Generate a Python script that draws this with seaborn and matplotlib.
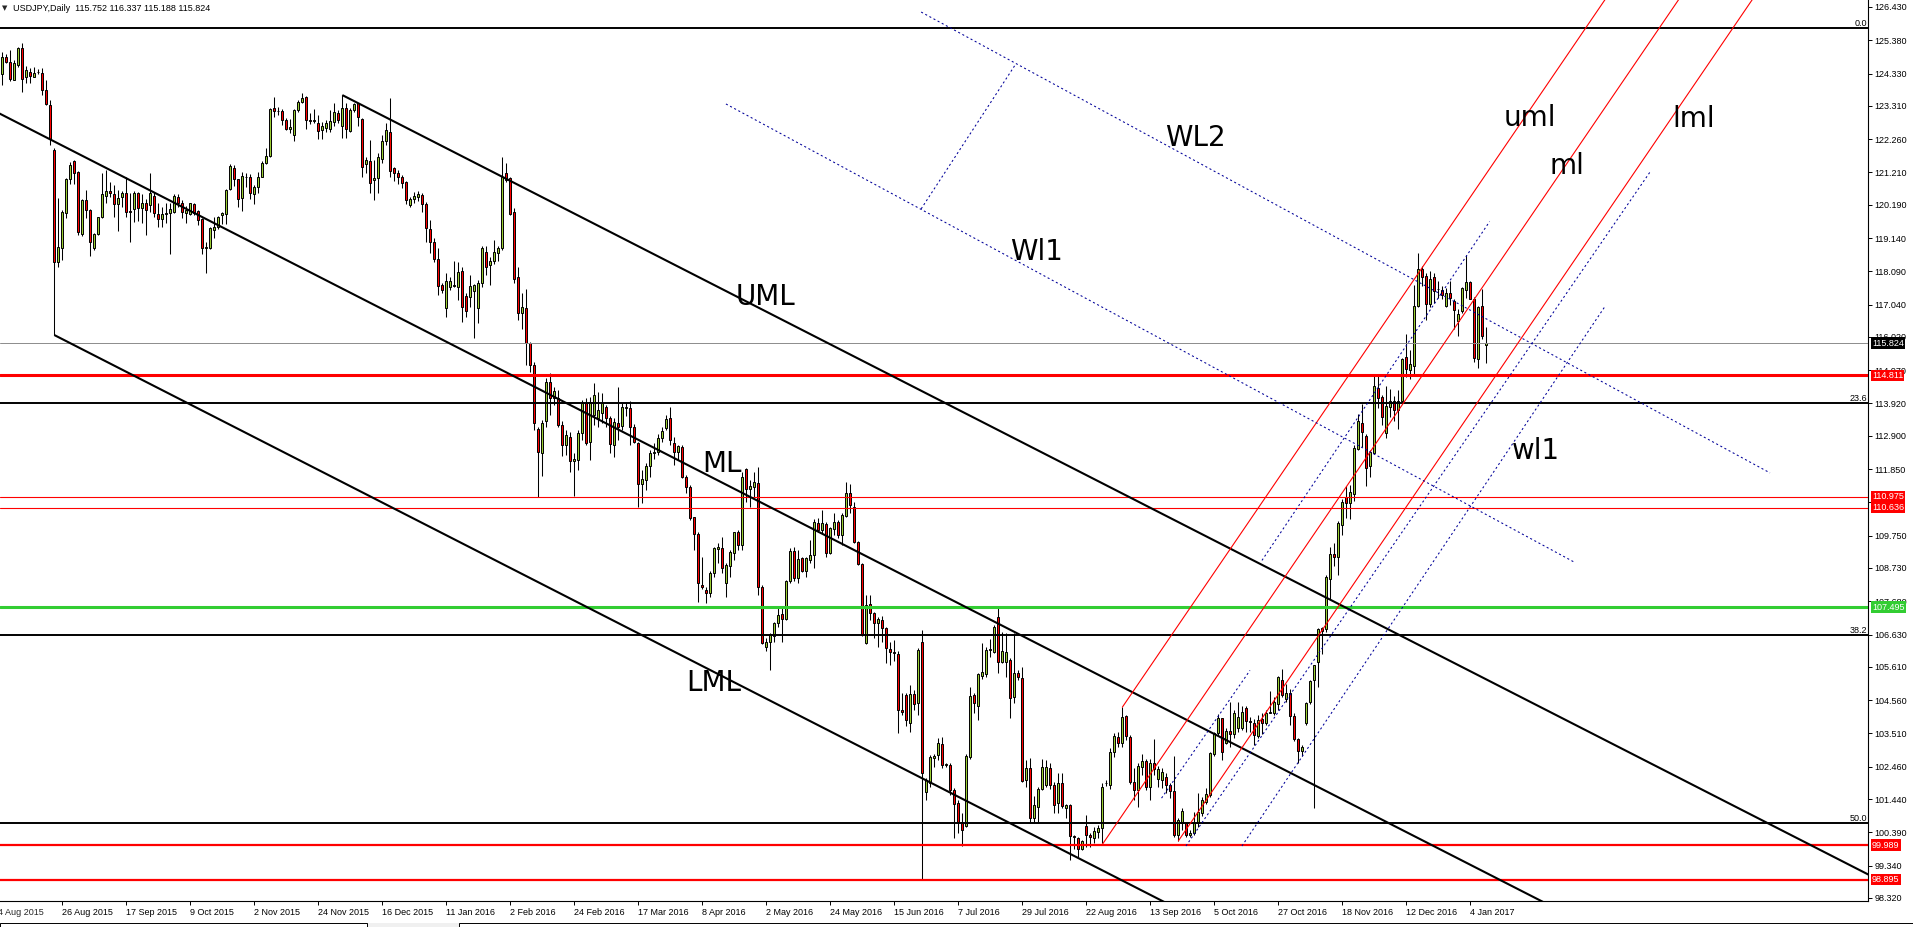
import numpy as np
import matplotlib
matplotlib.use("Agg")
import matplotlib.pyplot as plt
from matplotlib.patches import Rectangle
import seaborn as sns

# USDJPY daily candles, bar 0 = 5 Aug 2015 ... bar 371 = 10 Jan 2017
opens = [
    124.33, 124.84, 124.70, 124.14, 124.60, 125.12, 124.21, 124.39, 124.23, 124.37,
    124.36, 123.81, 123.35, 121.91, 118.39, 118.81, 119.92, 120.99, 121.57, 121.23,
    119.28, 120.34, 120.04, 118.81, 119.26, 119.79, 120.48, 120.61, 120.53, 120.20,
    120.42, 120.55, 119.99, 120.07, 120.55, 120.10, 120.23, 120.18, 120.46, 119.89,
    119.73, 119.89, 119.92, 119.97, 120.42, 120.23, 119.94, 119.89, 120.21, 119.99,
    119.73, 118.81, 118.84, 119.39, 119.49, 119.86, 119.89, 120.70, 121.35, 120.99,
    120.39, 121.07, 121.07, 120.53, 120.74, 121.07, 121.51, 121.74, 123.24, 123.15,
    123.14, 122.86, 122.57, 122.39, 123.18, 123.43, 123.60, 122.86, 122.84, 122.78,
    122.55, 122.60, 122.57, 122.79, 123.10, 122.66, 123.23, 122.53, 123.18, 123.39,
    122.89, 121.48, 121.57, 120.97, 121.03, 121.63, 122.20, 122.50, 121.34, 121.18,
    121.08, 120.92, 120.18, 120.36, 120.43, 120.50, 120.22, 119.43, 119.03, 118.47,
    117.66, 116.92, 117.61, 117.63, 117.61, 118.11, 117.31, 117.29, 117.48, 116.92,
    117.73, 118.71, 118.29, 118.40, 118.66, 118.81, 121.18, 121.03, 119.97, 117.90,
    116.77, 116.92, 115.84, 115.14, 113.11, 112.35, 113.38, 114.59, 114.08, 114.08,
    113.24, 112.61, 112.85, 112.09, 112.14, 112.98, 113.93, 112.72, 113.56, 113.45,
    113.63, 113.80, 113.45, 112.61, 113.32, 113.21, 113.77, 113.77, 113.17, 112.66,
    111.38, 111.51, 111.95, 112.37, 112.40, 112.82, 113.14, 113.45, 112.66, 112.40,
    112.56, 111.61, 111.30, 110.33, 109.80, 108.20, 108.04, 107.93, 108.56, 109.32,
    109.35, 108.25, 108.79, 109.19, 109.85, 109.46, 111.84, 111.21, 111.30, 111.40,
    108.12, 106.25, 106.41, 106.59, 106.99, 107.28, 107.11, 108.33, 109.28, 108.41,
    109.04, 108.62, 108.98, 109.14, 110.16, 109.93, 110.12, 109.21, 109.95, 110.19,
    109.77, 110.37, 111.11, 110.66, 109.56, 108.86, 106.35, 107.59, 107.32, 106.99,
    107.09, 106.83, 106.17, 106.09, 106.02, 104.25, 104.72, 103.85, 104.74, 104.48,
    106.38, 101.67, 101.96, 102.72, 102.83, 103.17, 102.51, 102.51, 101.73, 101.33,
    100.73, 100.59, 102.78, 104.72, 104.38, 105.32, 105.39, 106.14, 106.09, 107.17,
    105.77, 105.77, 105.83, 104.65, 105.43, 105.25, 102.04, 102.41, 100.83, 101.20,
    101.75, 101.88, 102.41, 101.88, 101.33, 101.96, 101.15, 101.25, 100.27, 100.20,
    99.88, 100.59, 100.31, 100.20, 100.41, 100.52, 101.94, 101.88, 102.93, 103.41,
    103.20, 104.06, 103.41, 101.99, 101.73, 102.46, 102.65, 101.81, 102.57, 102.06,
    102.04, 102.15, 101.88, 101.70, 100.31, 100.70, 100.67, 100.31, 100.38, 100.67,
    100.99, 101.36, 101.57, 102.86, 103.51, 103.99, 103.20, 103.58, 103.50, 103.67,
    103.67, 104.32, 103.91, 103.85, 103.44, 103.97, 103.85, 104.16, 104.14, 104.43,
    105.21, 104.61, 104.78, 104.05, 103.32, 102.95, 103.85, 104.49, 105.19, 105.75,
    106.83, 106.80, 108.37, 109.16, 109.07, 110.09, 110.97, 110.79, 111.05, 112.49,
    113.30, 112.90, 111.94, 112.37, 114.41, 114.12, 112.99, 113.81, 114.00, 113.73,
    114.00, 115.40, 114.99, 115.11, 117.00, 118.17, 117.94, 117.07, 117.91, 117.54,
    117.50, 117.00, 117.42, 117.15, 116.51, 116.84, 117.50, 117.74, 117.21, 115.32,
    117.00, 115.752,
]

highs = [
    125.02, 124.96, 125.07, 124.75, 125.17, 125.28, 124.56, 124.49, 124.54, 124.46,
    124.49, 124.12, 123.49, 121.97, 120.39, 120.02, 121.02, 121.55, 121.60, 121.25,
    120.36, 120.65, 120.06, 119.31, 119.81, 121.18, 121.30, 120.91, 120.81, 120.67,
    120.62, 121.07, 120.55, 120.61, 120.60, 120.53, 120.36, 121.20, 120.60, 120.23,
    120.13, 120.23, 120.23, 120.53, 120.53, 120.34, 120.15, 120.25, 120.23, 120.04,
    119.76, 119.02, 119.49, 119.81, 119.85, 119.97, 120.70, 121.47, 121.44, 121.01,
    121.23, 121.18, 121.16, 120.81, 121.23, 121.58, 121.98, 123.23, 123.58, 123.28,
    123.20, 122.94, 122.91, 123.20, 123.49, 123.72, 123.62, 123.07, 123.21, 123.02,
    122.81, 122.87, 123.18, 123.39, 123.18, 123.65, 123.39, 123.23, 123.41, 123.41,
    122.92, 121.71, 122.24, 121.60, 121.81, 122.39, 122.76, 123.55, 121.39, 121.29,
    121.13, 120.95, 120.45, 120.60, 120.63, 120.55, 120.29, 119.71, 119.13, 118.82,
    117.71, 118.03, 117.92, 118.40, 118.37, 118.24, 117.40, 117.98, 117.69, 117.82,
    118.89, 118.89, 118.55, 119.08, 118.89, 121.71, 121.50, 121.08, 120.08, 118.22,
    117.40, 117.52, 115.87, 115.24, 113.19, 113.40, 114.71, 114.87, 114.45, 114.35,
    113.38, 113.08, 113.03, 112.35, 113.09, 114.03, 114.08, 114.14, 114.58, 114.29,
    114.24, 113.87, 113.53, 113.45, 114.45, 113.93, 113.98, 114.01, 113.27, 112.72,
    111.82, 112.03, 112.45, 112.66, 112.96, 113.19, 113.56, 113.80, 112.87, 112.61,
    112.61, 111.66, 111.35, 110.35, 109.88, 109.09, 108.14, 108.62, 109.40, 109.51,
    109.72, 108.88, 109.30, 109.88, 109.93, 111.77, 111.88, 111.51, 111.77, 111.91,
    108.19, 106.51, 106.68, 107.04, 107.51, 107.46, 108.35, 109.35, 109.40, 109.30,
    109.09, 109.09, 109.61, 110.27, 110.30, 110.56, 110.19, 110.01, 110.48, 110.25,
    110.48, 111.45, 111.38, 110.82, 109.59, 108.88, 107.88, 107.88, 107.35, 107.17,
    107.22, 106.86, 106.41, 106.45, 106.10, 104.78, 104.80, 105.04, 104.88, 106.20,
    106.77, 102.09, 102.83, 102.86, 103.36, 103.41, 102.59, 102.57, 101.78, 101.41,
    100.99, 102.86, 104.96, 104.78, 105.41, 106.35, 106.25, 106.48, 106.93, 107.49,
    106.72, 106.67, 105.88, 106.67, 105.51, 105.62, 102.67, 102.72, 101.54, 101.83,
    102.69, 102.67, 102.57, 101.99, 102.25, 102.27, 101.30, 101.28, 100.30, 100.23,
    100.15, 100.94, 100.36, 100.57, 100.62, 101.96, 102.04, 103.04, 103.51, 103.57,
    104.33, 104.09, 103.46, 102.41, 102.57, 102.86, 102.69, 102.69, 103.35, 102.48,
    102.41, 102.25, 101.96, 102.80, 100.83, 101.15, 100.73, 100.46, 101.04, 101.64,
    101.51, 101.78, 102.93, 103.57, 104.12, 104.00, 103.67, 104.49, 104.26, 104.49,
    104.37, 104.37, 104.02, 103.97, 104.08, 104.14, 104.26, 104.84, 104.67, 105.33,
    105.54, 105.07, 104.90, 104.14, 103.38, 103.15, 104.49, 105.19, 105.68, 106.85,
    106.88, 108.52, 109.39, 109.51, 110.21, 110.91, 111.32, 111.35, 112.60, 113.59,
    113.89, 112.95, 112.45, 114.82, 114.79, 114.18, 114.47, 114.39, 114.15, 114.35,
    115.37, 116.10, 115.60, 117.66, 118.67, 118.26, 118.03, 118.09, 118.05, 117.80,
    117.62, 117.56, 117.77, 117.21, 116.89, 117.59, 118.59, 117.80, 117.27, 117.00,
    117.54, 116.337,
]

lows = [
    123.96, 124.65, 124.10, 124.12, 124.54, 123.75, 124.02, 124.04, 124.21, 124.31,
    123.65, 123.33, 122.07, 116.08, 118.23, 118.44, 119.76, 120.86, 120.86, 119.23,
    119.20, 119.76, 118.57, 118.76, 119.23, 119.77, 120.23, 120.44, 119.81, 119.37,
    120.13, 119.79, 119.02, 119.65, 119.68, 119.60, 119.23, 119.97, 119.81, 119.49,
    119.49, 119.60, 118.65, 119.92, 120.13, 119.76, 119.62, 119.88, 119.86, 119.55,
    118.63, 118.04, 118.78, 119.13, 119.41, 119.58, 119.58, 120.67, 120.78, 120.13,
    120.00, 120.76, 120.36, 120.21, 120.57, 121.05, 121.49, 121.70, 122.97, 123.02,
    122.70, 122.54, 122.46, 122.21, 123.12, 123.41, 122.59, 122.73, 122.76, 122.28,
    122.26, 122.50, 122.50, 122.66, 122.76, 122.29, 122.29, 122.47, 123.13, 122.68,
    121.06, 121.18, 120.55, 120.34, 120.55, 121.50, 122.08, 121.08, 120.95, 120.85,
    120.71, 120.22, 120.13, 120.24, 120.32, 119.97, 119.03, 118.68, 118.37, 117.35,
    117.40, 116.66, 117.50, 117.61, 117.19, 116.50, 116.66, 116.98, 115.98, 116.45,
    117.61, 117.98, 117.66, 118.32, 118.40, 118.77, 120.92, 119.87, 117.73, 116.56,
    116.26, 115.14, 114.90, 113.09, 110.96, 111.64, 113.19, 113.56, 113.87, 113.19,
    112.26, 112.30, 111.77, 111.00, 111.82, 112.77, 112.61, 112.14, 113.24, 113.19,
    113.30, 113.19, 112.37, 112.22, 112.77, 113.08, 113.51, 112.61, 112.66, 110.64,
    110.79, 111.19, 111.61, 112.16, 112.30, 112.69, 113.08, 112.61, 111.98, 112.14,
    111.56, 111.09, 110.25, 109.30, 107.67, 108.06, 107.62, 107.83, 108.46, 108.88,
    108.56, 107.83, 108.46, 108.98, 109.30, 109.30, 110.82, 110.67, 110.98, 107.88,
    106.33, 106.12, 105.51, 106.41, 106.88, 106.41, 107.09, 108.25, 108.33, 108.25,
    108.60, 108.46, 108.88, 108.72, 109.88, 109.83, 109.09, 109.17, 109.77, 109.67,
    109.46, 110.35, 110.48, 109.51, 108.83, 106.59, 106.33, 107.09, 106.51, 106.25,
    106.41, 105.72, 105.67, 105.80, 103.53, 104.09, 103.74, 103.57, 104.25, 104.09,
    98.91, 101.41, 101.83, 102.46, 102.67, 102.41, 102.46, 101.57, 100.20, 100.36,
    99.96, 100.57, 102.69, 104.14, 103.93, 105.22, 105.28, 105.93, 106.04, 105.41,
    105.72, 105.30, 103.99, 104.46, 105.20, 101.98, 101.83, 100.73, 100.70, 100.73,
    101.72, 101.83, 101.75, 100.99, 100.99, 101.15, 100.83, 99.52, 99.88, 99.62,
    99.83, 99.94, 99.92, 100.04, 100.20, 100.06, 101.85, 101.75, 102.78, 103.09,
    103.09, 103.30, 101.91, 101.41, 101.18, 102.20, 101.74, 101.41, 102.20, 101.83,
    101.78, 101.62, 101.46, 100.25, 100.13, 100.46, 100.25, 100.25, 100.30, 100.57,
    100.90, 101.28, 101.51, 102.80, 103.43, 102.67, 103.17, 103.09, 103.38, 103.56,
    103.62, 103.56, 103.56, 103.15, 103.38, 103.50, 103.79, 104.14, 104.08, 104.26,
    104.67, 104.49, 103.79, 103.27, 102.57, 102.80, 103.79, 104.43, 101.16, 104.96,
    106.03, 106.71, 107.76, 108.79, 108.52, 109.77, 110.30, 110.27, 110.85, 112.45,
    112.54, 111.32, 111.61, 112.33, 113.77, 113.24, 112.84, 113.48, 113.38, 113.10,
    113.97, 114.76, 114.70, 114.79, 116.98, 117.62, 116.54, 116.98, 117.10, 117.24,
    117.21, 116.98, 117.04, 116.26, 116.05, 116.77, 117.24, 117.21, 115.23, 115.05,
    115.95, 115.188,
]

closes = [
    124.86, 124.70, 124.17, 124.65, 125.12, 124.17, 124.44, 124.26, 124.36, 124.39,
    123.81, 123.37, 122.28, 118.39, 118.86, 119.97, 120.99, 121.44, 121.20, 119.34,
    120.34, 120.02, 119.02, 119.26, 119.79, 120.53, 120.63, 120.55, 120.20, 120.39,
    120.55, 119.97, 119.97, 120.55, 120.10, 120.25, 120.02, 120.57, 119.92, 119.73,
    119.89, 119.92, 120.07, 120.46, 120.23, 119.97, 120.04, 120.23, 119.92, 119.71,
    118.81, 118.86, 119.46, 119.49, 119.81, 119.92, 120.67, 121.41, 120.99, 120.36,
    121.09, 121.05, 120.57, 120.74, 121.05, 121.51, 121.72, 123.20, 123.15, 123.14,
    122.86, 122.57, 122.63, 123.18, 123.44, 123.57, 122.86, 122.84, 122.86, 122.52,
    122.68, 122.76, 122.84, 123.11, 122.85, 123.23, 122.57, 123.18, 123.37, 122.95,
    121.39, 121.60, 120.87, 121.03, 121.69, 122.21, 122.55, 121.26, 121.18, 121.06,
    120.89, 120.34, 120.36, 120.47, 120.53, 120.22, 119.45, 119.03, 118.47, 117.63,
    117.50, 117.77, 117.80, 117.66, 118.08, 116.96, 116.85, 117.63, 117.66, 117.73,
    118.82, 118.24, 118.42, 118.71, 118.82, 121.06, 120.97, 119.90, 117.84, 116.77,
    116.96, 115.82, 115.14, 113.32, 112.40, 113.30, 114.59, 114.08, 114.30, 113.24,
    112.61, 112.93, 112.09, 112.16, 112.98, 113.95, 112.66, 113.98, 114.19, 113.72,
    113.95, 113.45, 112.64, 113.35, 113.19, 113.80, 113.82, 113.17, 112.69, 111.38,
    111.53, 111.95, 112.37, 112.40, 112.82, 113.06, 113.42, 112.77, 112.40, 112.58,
    111.61, 111.30, 110.30, 109.80, 108.25, 108.14, 107.95, 108.56, 109.35, 109.38,
    108.72, 108.83, 109.25, 109.85, 109.46, 111.61, 111.21, 111.32, 111.45, 108.12,
    106.37, 106.41, 106.65, 106.99, 107.25, 107.11, 108.33, 109.28, 108.41, 109.00,
    108.62, 109.04, 109.14, 110.19, 109.93, 110.16, 109.21, 109.98, 110.19, 109.77,
    110.40, 111.11, 110.72, 109.54, 108.86, 106.62, 107.56, 107.32, 106.99, 107.11,
    106.83, 106.20, 106.09, 106.05, 104.25, 104.20, 103.93, 104.74, 104.44, 106.14,
    102.25, 102.04, 102.77, 102.80, 103.20, 102.51, 102.56, 101.73, 101.30, 100.73,
    100.46, 102.80, 104.69, 104.48, 105.39, 105.46, 106.14, 106.17, 106.88, 105.77,
    106.12, 106.09, 104.62, 105.43, 105.28, 102.00, 102.41, 100.83, 101.25, 101.75,
    102.44, 102.44, 101.88, 101.25, 101.96, 101.22, 101.25, 100.27, 100.25, 99.88,
    100.13, 100.31, 100.23, 100.44, 100.52, 101.81, 101.96, 102.93, 103.43, 103.22,
    104.02, 103.43, 101.99, 101.73, 102.48, 102.65, 101.81, 102.57, 102.38, 102.38,
    102.30, 101.88, 101.70, 100.31, 100.78, 101.07, 100.31, 100.38, 100.67, 101.04,
    101.41, 101.60, 102.88, 103.51, 103.99, 102.93, 103.60, 103.50, 104.16, 104.02,
    104.20, 103.91, 103.88, 103.46, 103.93, 103.85, 104.16, 104.20, 104.49, 105.28,
    104.72, 104.78, 104.05, 103.32, 102.95, 103.07, 104.47, 105.17, 105.66, 106.80,
    106.73, 108.44, 109.18, 109.07, 110.15, 110.82, 110.79, 111.14, 112.52, 113.36,
    113.03, 111.90, 112.40, 114.47, 114.08, 113.48, 113.83, 114.00, 113.71, 114.00,
    115.32, 115.02, 115.17, 117.00, 118.17, 117.91, 117.07, 117.85, 117.47, 117.52,
    117.35, 117.42, 117.24, 116.86, 116.74, 117.56, 117.74, 117.21, 115.35, 116.96,
    116.05, 115.824,
]

# time axis: a label every 16 bars, the first one (bar -1) is cut at the left edge
date_labels = [
    "4 Aug 2015", "26 Aug 2015", "17 Sep 2015", "9 Oct 2015", "2 Nov 2015",
    "24 Nov 2015", "16 Dec 2015", "11 Jan 2016", "2 Feb 2016", "24 Feb 2016",
    "17 Mar 2016", "8 Apr 2016", "2 May 2016", "24 May 2016", "15 Jun 2016",
    "7 Jul 2016", "29 Jul 2016", "22 Aug 2016", "13 Sep 2016", "5 Oct 2016",
    "27 Oct 2016", "18 Nov 2016", "12 Dec 2016", "4 Jan 2017",
]
first_label_bar = -1
label_step = 16

# price scale; 110.800 sits completely under the two red tags
price_ticks = [
    126.430, 125.380, 124.330, 123.310, 122.260, 121.210, 120.190, 119.140,
    118.090, 117.040, 116.020, 114.970, 113.920, 112.900, 111.850, 110.800,
    109.750, 108.730, 107.680, 106.630, 105.610, 104.560, 103.510, 102.460,
    101.440, 100.390, 99.340, 98.320,
]
hidden_ticks = [110.800]

# horizontal levels
red_levels = [114.811, 110.975, 110.636, 99.989, 98.895]
green_level = 107.495
bid_price = 115.824

# fibonacci retracement
fib_high = 125.78
fib_low = 75.62
fib_ratios = [0.0, 0.236, 0.382, 0.5]

# Andrews pitchforks: anchor points (bar, price)
black_fork = [(-44, 125.86), (85, 123.65), (13, 116.08)]
red_fork = [(275, 100.01), (280, 104.34), (294, 100.12)]

# dotted warning / sliding lines (bar0, price0, bar1, price1)
dotted_lines = [
    (180.9, 123.37, 392.9, 108.92),
    (229.7, 126.27, 441.9, 111.73),
    (229.7, 120.06, 253.4, 124.64),
    (314.9, 108.97, 371.8, 119.66),
    (289.8, 101.47, 311.9, 105.50),
    (295.9, 99.96, 412.0, 121.24),
    (309.9, 99.96, 400.8, 117.01),
]

# text objects on the chart (left x in bars, baseline price)
notes = [
    ("WL2", 290.7, 122.04), ("Wl1", 251.9, 118.45), ("UML", 183.2, 117.03),
    ("ML", 174.9, 111.76), ("LML", 170.9, 104.85), ("uml", 375.4, 122.67),
    ("ml", 386.7, 121.16), ("lml", 417.4, 122.64), ("wl1", 377.4, 112.17),
]


def pitchfork(p1, p2, p3, x_end):
    mx = (p2[0] + p3[0]) / 2
    my = (p2[1] + p3[1]) / 2
    slope = (my - p1[1]) / (mx - p1[0])
    out = []
    for x0, y0 in (p1, p2, p3):
        out.append(((x0, x_end), (y0, y0 + slope * (x_end - x0))))
    return out


sns.set_theme(style="white")
plt.rcParams["font.family"] = ["Liberation Sans", "DejaVu Sans"]

W, H = 1913, 927
fig = plt.figure(figsize=(W / 100, H / 100), dpi=100)
fig.patch.set_facecolor("white")
ax = fig.add_axes([0, 1 - 901 / H, 1868 / W, 901 / H])
ax.set_facecolor("white")

o = np.array(opens)
h = np.array(highs)
l = np.array(lows)
c = np.array(closes)
bars = np.arange(len(c))
up = c >= o
lo = np.minimum(o, c)
ht = np.abs(c - o)

ax.vlines(bars, l, h, color="black", lw=0.75, zorder=2)
ax.bar(bars[up], ht[up], bottom=lo[up], width=0.5, color="#9acd32",
       edgecolor="black", linewidth=0.7, zorder=2.1)
ax.bar(bars[~up], ht[~up], bottom=lo[~up], width=0.5, color="#ff0000",
       edgecolor="black", linewidth=0.7, zorder=2.1)

# fibo levels
fib_levels = [fib_high - r * (fib_high - fib_low) for r in fib_ratios]
for lev, r in zip(fib_levels, fib_ratios):
    ax.axhline(lev, color="black", lw=1.4, zorder=3)
    ax.text(0.9993, lev, "%.1f" % (r * 100), transform=ax.get_yaxis_transform(),
            ha="right", va="bottom", fontsize=6.5, color="black", zorder=4)

# price levels
red_widths = [2.2, 0.8, 0.8, 1.6, 1.6]
for lev, lw in zip(red_levels, red_widths):
    ax.axhline(lev, color="#ff0000", lw=lw, zorder=3)
ax.axhline(green_level, color="#32cd32", lw=2.2, zorder=3)
ax.axhline(bid_price, color="#8c8c8c", lw=0.7, zorder=3)

# pitchforks
for xs, ys in pitchfork(*black_fork, 480):
    ax.plot(xs, ys, color="black", lw=1.5, zorder=3, solid_capstyle="butt")
for xs, ys in pitchfork(*red_fork, 480):
    ax.plot(xs, ys, color="#ff0000", lw=0.8, zorder=3)

for x0, y0, x1, y1 in dotted_lines:
    ax.plot([x0, x1], [y0, y1], color="#000099", lw=0.75,
            linestyle=(0, (2, 2.5)), zorder=3)

for txt, x, y in notes:
    ax.text(x, y, txt, ha="left", va="baseline", fontsize=20,
            family="DejaVu Sans", color="black", zorder=4)

ax.set_xlim(-0.575, 466.4)
ax.set_ylim(98.224, 126.65)

# axes look
for side in ("left", "top"):
    ax.spines[side].set_visible(False)
for side in ("right", "bottom"):
    ax.spines[side].set_color("black")
    ax.spines[side].set_linewidth(0.8)
ax.grid(False)

ax.yaxis.tick_right()
ax.set_yticks(price_ticks)
ax.set_yticklabels(["" if v in hidden_ticks else "%.3f" % v for v in price_ticks])
ax.tick_params(axis="y", which="major", direction="out", length=3, width=0.7,
               pad=1.5, labelsize=6.5, colors="black", right=True, left=False)

tick_bars = [first_label_bar + label_step * i for i in range(len(date_labels))]
shown = [(b, s) for b, s in zip(tick_bars, date_labels) if b >= -0.5]
ax.set_xticks([b for b, _ in shown])
ax.set_xticklabels([s for _, s in shown])
for lab in ax.get_xticklabels():
    lab.set_ha("left")
ax.tick_params(axis="x", which="major", direction="out", length=3, width=0.7,
               pad=2, labelsize=6.5, colors="black", bottom=True)
for b, s in zip(tick_bars, date_labels):
    if b < -0.5:
        ax.annotate(s, xy=(b, 0), xycoords=ax.get_xaxis_transform(),
                    xytext=(0, -5), textcoords="offset points", ha="left",
                    va="top", fontsize=6.5, annotation_clip=False)

# coloured price tags on the scale
tags = [(bid_price, "black")] + [(v, "#ff0000") for v in red_levels] + \
       [(green_level, "#32cd32")]
for v, col in tags:
    ax.text(1.0021, v, "%.3f" % v, transform=ax.get_yaxis_transform(),
            ha="left", va="center", fontsize=6.5, color="white", clip_on=False,
            zorder=10, bbox=dict(boxstyle="square,pad=0.13", fc=col, ec="none"))

# header line
fig.text(2 / W, 1 - 8.5 / H, "\u25bc", fontsize=5, family="DejaVu Sans",
         va="center", ha="left")
fig.text(13 / W, 1 - 8.5 / H,
         "USDJPY,Daily  %.3f %.3f %.3f %.3f" % (opens[-1], highs[-1], lows[-1], closes[-1]),
         fontsize=6.5, va="center", ha="left", color="black")

# window tab strip at the very bottom
fig.add_artist(Rectangle((0, 0), 1, 4 / H, transform=fig.transFigure,
                         fc="#f0f0f0", ec="none"))
fig.add_artist(Rectangle((0, -1 / H), 367 / W, 5 / H, transform=fig.transFigure,
                         fc="white", ec="black", lw=0.7))
fig.add_artist(Rectangle((459 / W, -1 / H), (W - 459) / W, 5 / H,
                         transform=fig.transFigure, fc="white", ec="black", lw=0.7))

fig.savefig("out.png", dpi=100)
